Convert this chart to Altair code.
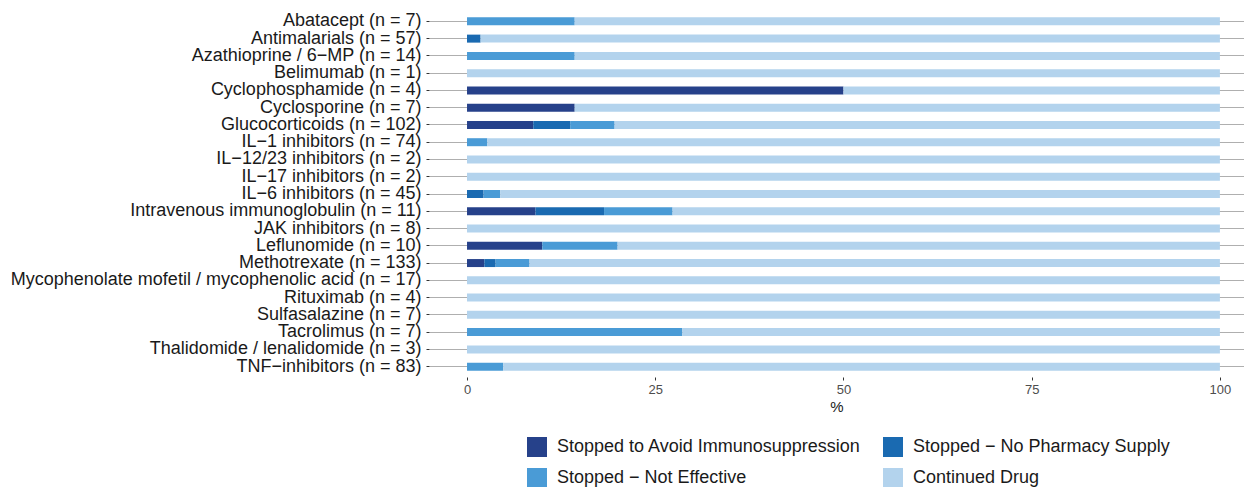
import altair as alt
import pandas as pd

categories = [
    "Abatacept (n = 7)",
    "Antimalarials (n = 57)",
    "Azathioprine / 6\u2212MP (n = 14)",
    "Belimumab (n = 1)",
    "Cyclophosphamide (n = 4)",
    "Cyclosporine (n = 7)",
    "Glucocorticoids (n = 102)",
    "IL\u22121 inhibitors (n = 74)",
    "IL\u221212/23 inhibitors (n = 2)",
    "IL\u221217 inhibitors (n = 2)",
    "IL\u22126 inhibitors (n = 45)",
    "Intravenous immunoglobulin (n = 11)",
    "JAK inhibitors (n = 8)",
    "Leflunomide (n = 10)",
    "Methotrexate (n = 133)",
    "Mycophenolate mofetil / mycophenolic acid (n = 17)",
    "Rituximab (n = 4)",
    "Sulfasalazine (n = 7)",
    "Tacrolimus (n = 7)",
    "Thalidomide / lenalidomide (n = 3)",
    "TNF\u2212inhibitors (n = 83)",
]

statuses = [
    "Stopped to Avoid Immunosuppression",
    "Stopped \u2212 No Pharmacy Supply",
    "Stopped \u2212 Not Effective",
    "Continued Drug",
]
colors = ["#26418a", "#1a6ab1", "#4a9bd6", "#b3d3ed"]

# legend fills column by column; this order gives rows (Avoid, No Supply) / (Not Effective, Continued)
legend_order = [0, 2, 1, 3]

avoid = [0, 0, 0, 0, 50, 14.3, 8.8, 0, 0, 0, 0, 9.1, 0, 10, 2.3, 0, 0, 0, 0, 0, 0]
no_supply = [0, 1.8, 0, 0, 0, 0, 4.9, 0, 0, 0, 2.2, 9.1, 0, 0, 1.5, 0, 0, 0, 0, 0, 0]
not_effective = [14.3, 0, 14.3, 0, 0, 0, 5.9, 2.7, 0, 0, 2.2, 9.1, 0, 10, 4.5, 0, 0, 0, 28.6, 0, 4.8]
continued = [85.7, 98.2, 85.7, 100, 50, 85.7, 80.4, 97.3, 100, 100, 95.6, 72.7, 100, 80, 91.7,
             100, 100, 100, 71.4, 100, 95.2]

series = [avoid, no_supply, not_effective, continued]
rows = []
for si, (status, vals) in enumerate(zip(statuses, series)):
    for cat, v in zip(categories, vals):
        rows.append({"drug": cat, "status": status, "order": si, "pct": v})
df = pd.DataFrame(rows)

chart = (
    alt.Chart(df)
    .mark_bar(size=8)
    .encode(
        x=alt.X(
            "pct:Q",
            stack="zero",
            title="%",
            scale=alt.Scale(domain=[-5.05, 103.2], nice=False, zero=False),
            axis=alt.Axis(
                values=[0, 25, 50, 75, 100],
                grid=False,
                domain=False,
                tickSize=3,
                tickColor="#333333",
                labelFontSize=13,
                labelColor="#4d4d4d",
                labelPadding=3,
                titleFontSize=15,
                titleFontWeight="normal",
                titleColor="#1a1a1a",
                titlePadding=3,
                labelFont="Liberation Sans",
                titleFont="Liberation Sans",
            ),
        ),
        y=alt.Y(
            "drug:N",
            sort=categories,
            title=None,
            scale=alt.Scale(paddingInner=0, paddingOuter=0.1),
            axis=alt.Axis(
                grid=True,
                gridColor="#9a9a9a",
                gridWidth=0.8,
                bandPosition=0.5,
                domain=False,
                tickSize=3,
                tickColor="#333333",
                labelFontSize=18,
                labelColor="#1a1a1a",
                labelPadding=5,
                labelFont="Liberation Sans",
                labelLimit=0,
            ),
        ),
        color=alt.Color(
            "status:N",
            scale=alt.Scale(
                domain=[statuses[i] for i in legend_order],
                range=[colors[i] for i in legend_order],
            ),
            legend=alt.Legend(
                title=None,
                orient="none",
                legendX=98,
                legendY=426,
                columns=2,
                symbolType="square",
                symbolSize=400,
                symbolStrokeWidth=0,
                symbolOpacity=1,
                labelFontSize=18,
                labelFont="Liberation Sans",
                labelColor="#1a1a1a",
                labelOffset=10,
                columnPadding=22,
                rowPadding=11,
                padding=0,
                labelLimit=0,
            ),
        ),
        order=alt.Order("order:Q"),
    )
    .properties(
        width=815,
        height=366,
        autosize=alt.AutoSizeParams(type="none"),
        padding={"left": 421, "top": 3, "right": 0, "bottom": 110},
    )
    .configure_view(stroke=None)
)

chart.save("out.html", embed_options={"renderer": "svg", "actions": False})
